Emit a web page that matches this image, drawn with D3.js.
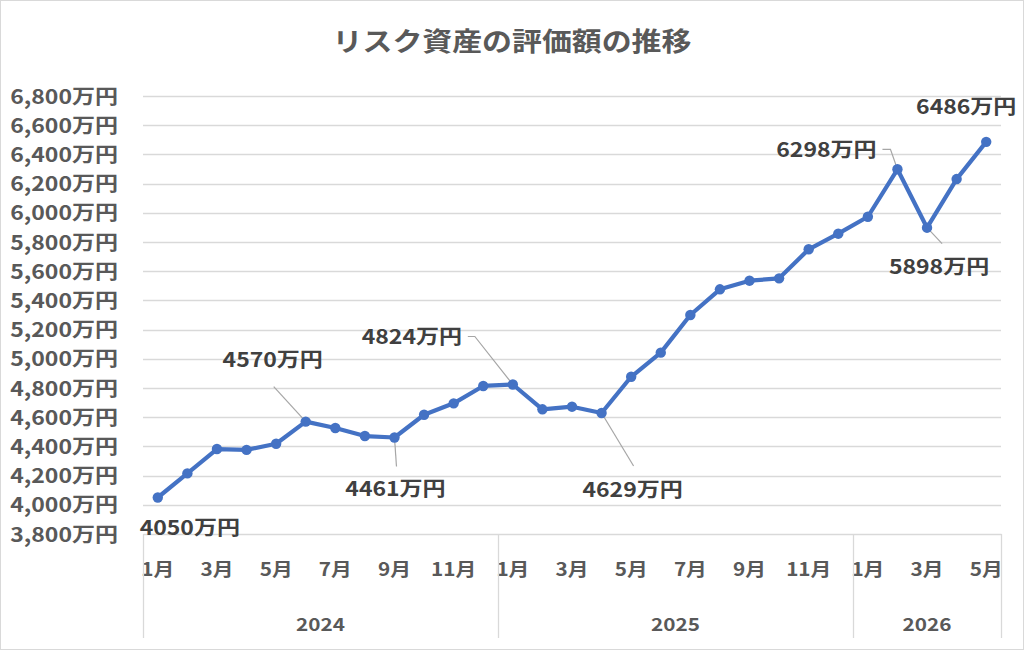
<!DOCTYPE html>
<html>
<head>
<meta charset="utf-8">
<script src="https://cdn.jsdelivr.net/npm/d3@7"></script>
<style>
body{margin:0;background:#fff;}
svg text{font-family:"Noto Sans CJK JP","Noto Sans",sans-serif;font-weight:bold;}
</style>
</head>
<body>
<div id="chart"></div>
<script>
var titleText = "リスク資産の評価額の推移";
var years = ["2024","2025","2026"];
var yearMonths = [12, 12, 5];
var values = [4050,4215,4382,4376,4418,4570,4526,4471,4461,4617,4695,4814,
	4824,4654,4672,4629,4877,5042,5300,5476,5535,5551,5750,5857,
	5973,6298,5898,6231,6486];
var yTicks = [3800,4000,4200,4400,4600,4800,5000,5200,5400,5600,5800,6000,6200,6400,6600,6800];

// label placement relative to the point: [index, dx, dy, leaderX, leaderY, elbow]
var labelSpots = [
	[0, 32, 30, null, null, 0],
	[5, -33, -62, -32, -35, 0],
	[8, 1, 52, 2, 29, 0],
	[12, -101, -47, -38, -48, -7],
	[15, 31, 77, 32, 53, 0],
	[25, -71, -19, -7, -20, -8],
	[26, 12, 39, 15, 16, 0],
	[28, -20, -35, null, null, 0]
];

var width = 1024, height = 650;
var plotLeft = 143, plotRight = 1001, plotTop = 96, plotBottom = 534;
var stretch = 1.15;

var cats = [];
years.forEach(function(y, i){
	for(var m = 1; m <= yearMonths[i]; m++) cats.push(y + "-" + m);
});

// widen glyphs a little, the way the original export looks
function widen(sel){
	sel.each(function(){
		var w = this.getComputedTextLength();
		if(w > 0) d3.select(this).attr("textLength", w*stretch).attr("lengthAdjust", "spacingAndGlyphs");
	});
}

var svg = d3.select("#chart")
	.append("svg")
	.attr("width", width)
	.attr("height", height);

svg.append("rect")
	.attr("x", 0.5).attr("y", 0.5)
	.attr("width", width-1).attr("height", height-1)
	.attr("fill", "#fff")
	.attr("stroke", "#d9d9d9");

var x = d3.scaleBand().domain(cats).range([plotLeft, plotRight]);
var y = d3.scaleLinear().domain([3800, 6800]).range([plotBottom, plotTop]);
var cx = function(i){ return x(cats[i]) + x.bandwidth()/2; };

svg.append("text")
	.attr("x", 512).attr("y", 51)
	.attr("text-anchor", "middle")
	.attr("fill", "#595959")
	.attr("font-size", "26px")
	.text(titleText)
	.call(widen);

// gridlines
svg.append("g").selectAll("line")
	.data(yTicks.slice(1))
	.enter().append("line")
	.attr("x1", plotLeft).attr("x2", plotRight)
	.attr("y1", function(d){ return Math.round(y(d))+0.5; })
	.attr("y2", function(d){ return Math.round(y(d))+0.5; })
	.attr("stroke", "#d9d9d9")
	.attr("stroke-width", 1.3);

var yAxis = svg.append("g")
	.attr("transform", "translate(" + (plotLeft-25) + ",0)")
	.call(d3.axisLeft(y).tickValues(yTicks).tickSize(0).tickPadding(0)
		.tickFormat(function(d){ return d3.format(",")(d) + "万円"; }));
yAxis.select(".domain").remove();
yAxis.selectAll("text")
	.attr("fill", "#595959")
	.attr("font-size", "20px")
	.attr("dy", "0.35em")
	.call(widen);

// category axis
var xAxis = svg.append("g")
	.attr("transform", "translate(0," + plotBottom + ")")
	.call(d3.axisBottom(x).tickSize(0).tickPadding(36)
		.tickFormat(function(d){ var m = +d.split("-")[1]; return m % 2 === 1 ? m + "月" : ""; }));
xAxis.select(".domain")
	.attr("stroke", "#d9d9d9")
	.attr("stroke-width", 1.3);
xAxis.selectAll("text")
	.attr("fill", "#595959")
	.attr("font-size", "18px")
	.attr("dy", "0.35em")
	.call(widen);

var start = 0;
var groups = years.map(function(yr, i){
	var g = {year: yr, first: cats[start], last: cats[start + yearMonths[i] - 1]};
	start += yearMonths[i];
	return g;
});

var bounds = [plotLeft].concat(groups.map(function(g){ return x(g.last) + x.bandwidth(); }));
svg.append("g").selectAll("line")
	.data(bounds)
	.enter().append("line")
	.attr("x1", function(d){ return Math.round(d)+0.5; })
	.attr("x2", function(d){ return Math.round(d)+0.5; })
	.attr("y1", plotBottom).attr("y2", 638)
	.attr("stroke", "#d9d9d9")
	.attr("stroke-width", 1.3);

svg.append("g").selectAll("text")
	.data(groups)
	.enter().append("text")
	.attr("x", function(g){ return (x(g.first) + x(g.last) + x.bandwidth())/2; })
	.attr("y", 625)
	.attr("dy", "0.35em")
	.attr("text-anchor", "middle")
	.attr("fill", "#595959")
	.attr("font-size", "18px")
	.text(function(g){ return g.year; })
	.call(widen);

// series
var line = d3.line()
	.x(function(d, i){ return cx(i); })
	.y(function(d){ return y(d); });

svg.append("path")
	.datum(values)
	.attr("d", line)
	.attr("fill", "none")
	.attr("stroke", "#4472c4")
	.attr("stroke-width", 4.2)
	.attr("stroke-linejoin", "round");

// leader lines
var leaders = svg.append("g");
labelSpots.forEach(function(s){
	if(s[3] === null) return;
	var px = cx(s[0]), py = y(values[s[0]]);
	var pts = [[px + s[3], py + s[4]]];
	if(s[5]) pts.unshift([px + s[3] + s[5], py + s[4]]);
	pts.push([px, py]);
	leaders.append("path")
		.attr("d", d3.line()(pts))
		.attr("fill", "none")
		.attr("stroke", "#a6a6a6")
		.attr("stroke-width", 1.2);
});

svg.append("g").selectAll("circle")
	.data(values)
	.enter().append("circle")
	.attr("cx", function(d, i){ return cx(i); })
	.attr("cy", function(d){ return y(d); })
	.attr("r", 5.2)
	.attr("fill", "#4472c4");

svg.append("g").selectAll("text")
	.data(labelSpots)
	.enter().append("text")
	.attr("x", function(s){ return cx(s[0]) + s[1]; })
	.attr("y", function(s){ return y(values[s[0]]) + s[2]; })
	.attr("dy", "0.35em")
	.attr("text-anchor", "middle")
	.attr("fill", "#404040")
	.attr("font-size", "20px")
	.text(function(s){ return values[s[0]] + "万円"; })
	.call(widen);
</script>
</body>
</html>
